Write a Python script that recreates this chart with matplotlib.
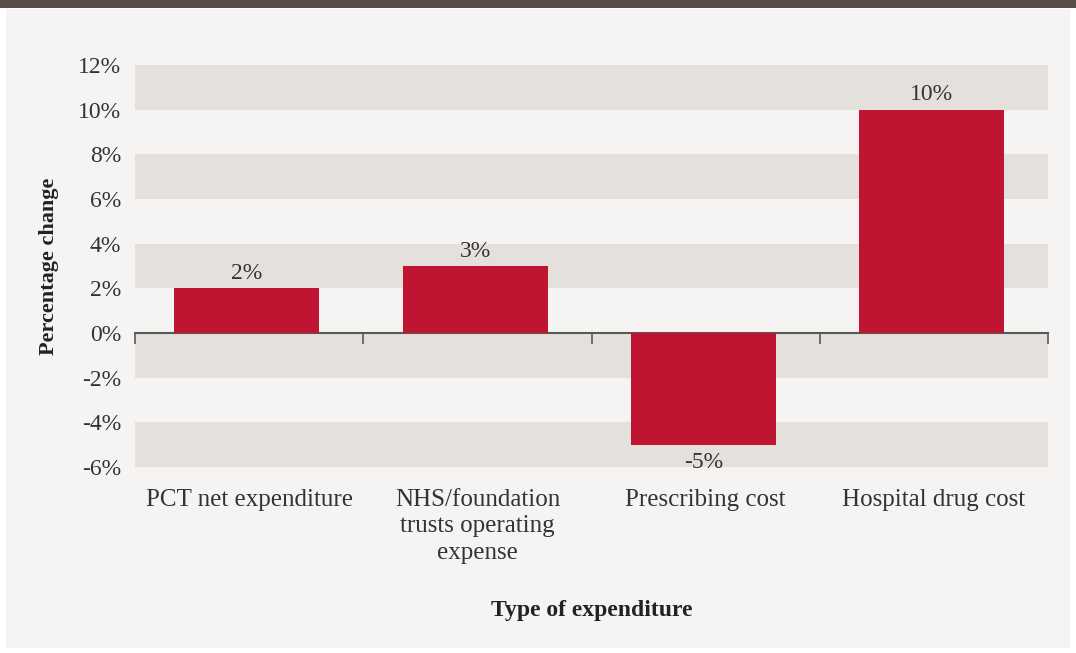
import matplotlib.pyplot as plt
from matplotlib.patches import Rectangle

# expenditure categories and percentage change
categories = ['PCT net expenditure', 'NHS/foundation\ntrusts operating\nexpense',
              'Prescribing cost', 'Hospital drug cost']
changes = [2, 3, -5, 10]
yticks = [-6, -4, -2, 0, 2, 4, 6, 8, 10, 12]

plt.rcParams['font.family'] = ['Liberation Serif', 'DejaVu Serif']

fig = plt.figure(figsize=(10.76, 6.53), dpi=100)
fig.patch.set_facecolor('white')
# panel background and dark header strip
fig.add_artist(Rectangle((0.006, 0.008), 0.988, 0.978, transform=fig.transFigure,
                         facecolor='#f5f4f2', edgecolor='none', zorder=-10))
fig.add_artist(Rectangle((0, 0.988), 1, 0.012, transform=fig.transFigure,
                         facecolor='#594d4a', edgecolor='none', zorder=-10))

ax = fig.add_axes([0.1255, 0.2849, 0.8485, 0.6156])
ax.set_facecolor('#f5f4f2')
ymin, ymax = -6, 12
ax.set_ylim(ymin, ymax)
ax.set_xlim(-0.5, len(categories) - 0.5)

# alternating horizontal bands
for lo in range(ymax - 2, ymin - 1, -4):
    ax.axhspan(lo, lo + 2, color='#e4e1dc', zorder=0, lw=0)

x = [i - 0.01 for i in range(len(categories))]
ax.bar(x, changes, width=0.635, color='#c01433', zorder=2)

for xi, v in zip(x, changes):
    if v >= 0:
        ax.annotate(f'{v}%', (xi, v), xytext=(0, 3), textcoords='offset points',
                    ha='center', va='bottom', fontsize=17, color='#333333', zorder=5)
    else:
        ax.annotate(f'{v}%', (xi, v), xytext=(0, -5), textcoords='offset points',
                    ha='center', va='top', fontsize=17, color='#333333', zorder=5)

for s in ax.spines.values():
    s.set_visible(False)

ax.set_yticks(yticks)
ax.set_yticklabels([f'{t}%' for t in yticks])
ax.tick_params(axis='y', length=0, pad=10, labelsize=17, labelcolor='#333333')
ax.set_xticks(range(len(categories)))
ax.set_xticklabels(categories, linespacing=1.25)
ax.tick_params(axis='x', length=0, pad=16, labelsize=18, labelcolor='#333333')

# zero line with category boundary ticks
sec = ax.secondary_xaxis((0 - ymin) / (ymax - ymin))
sec.set_xticks([i - 0.5 for i in range(len(categories) + 1)])
sec.set_xticklabels([])
sec.tick_params(axis='x', direction='out', length=8, width=1.2, color='#595959')
sec.xaxis.set_ticks_position('bottom')
for name, s in sec.spines.items():
    s.set_visible(name == 'bottom')
sec.spines['bottom'].set_color('#595959')
sec.spines['bottom'].set_linewidth(1.5)

ax.set_ylabel('Percentage change', fontsize=16, fontweight='bold', color='#222222', labelpad=14)
ax.set_xlabel('Type of expenditure', fontsize=17, fontweight='bold', color='#222222', labelpad=26)

fig.savefig('out.png', dpi=100, facecolor=fig.get_facecolor())
